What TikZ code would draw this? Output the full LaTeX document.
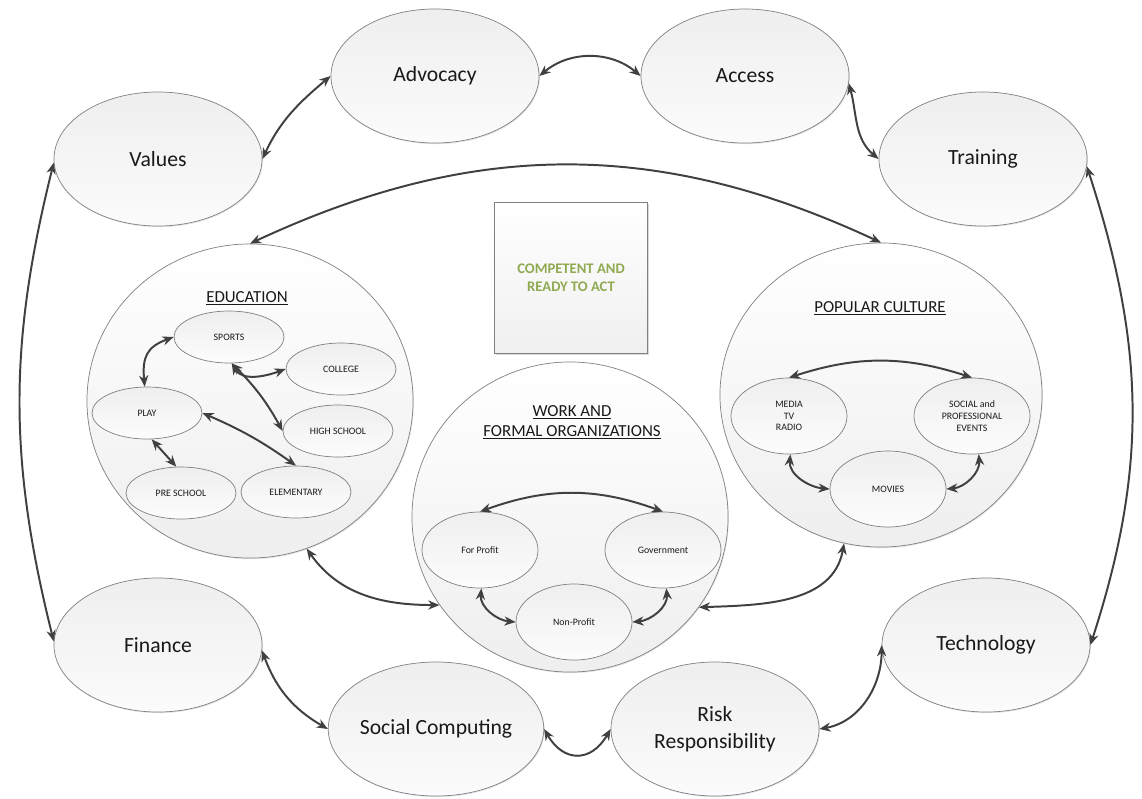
\documentclass[tikz,border=0pt]{standalone}
\usepackage{fontspec}
\setmainfont{Carlito}
\usetikzlibrary{shapes.geometric,arrows.meta,shadows}
\definecolor{compgreen}{RGB}{143,170,80}
\definecolor{edgegray}{RGB}{128,128,128}
\definecolor{linkgray}{RGB}{64,64,64}

\begin{document}
\begin{tikzpicture}[x=0.025cm,y=-0.025cm,
  theme/.style={ellipse,draw=edgegray,line width=0.5pt,top color=gray!13,bottom color=gray!3,minimum width=5.2cm,minimum height=3.35cm,inner sep=0pt,align=center,font=\fontsize{15.4}{19}\selectfont,text=black!90,drop shadow={opacity=0.2,shadow xshift=0.6pt,shadow yshift=-0.8pt}},
  sphere/.style={ellipse,draw=edgegray,line width=0.5pt,top color=white,bottom color=gray!13,inner sep=0pt,drop shadow={opacity=0.2,shadow xshift=0.6pt,shadow yshift=-0.8pt}},
  subtopic/.style={ellipse,draw=edgegray,line width=0.5pt,top color=gray!13,bottom color=gray!2,inner sep=0pt,align=center,font=\fontsize{7}{8.3}\selectfont,text=black!90},
  eduitem/.style={subtopic,minimum width=2.75cm,minimum height=1.3cm},
  orgitem/.style={subtopic,minimum width=2.9cm,minimum height=1.9cm},
  heading/.style={align=center,font=\fontsize{12}{14.2}\selectfont,text=black!90},
  link/.style={draw=linkgray,line width=1.4pt,{Stealth[length=8pt,width=6.5pt]}-{Stealth[length=8pt,width=6.5pt]}}]
\useasboundingbox (0,0) rectangle (1142,798);

\node[theme] (values) at (158,159) {Values};
\node[theme] (advocacy) at (435,76) {Advocacy};
\node[theme] (access) at (745,76) {Access};
\node[theme] (training) at (983,159) {Training};
\node[theme] (finance) at (158,645) {Finance};
\node[theme] (technology) at (986,645) {Technology};
\node[theme] (social) at (436,729) {Social Computing};
\node[theme] (risk) at (715,729) {Risk\\Responsibility};

\node[sphere,minimum width=8.15cm,minimum height=7.85cm] (edu) at (250,401) {};
\node[sphere,minimum width=8.05cm,minimum height=7.6cm] (pop) at (881,395) {};
\node[sphere,minimum width=7.9cm,minimum height=7.75cm] (work) at (570,517) {};

\node[heading] (eduhead) at (247,298) {\underline{EDUCATION}};
\node[heading] (workhead) at (572,422) {\underline{WORK AND}\\\underline{FORMAL ORGANIZATIONS}};
\node[heading] (pophead) at (880,308) {\underline{POPULAR CULTURE}};

\node[eduitem] (sports) at (229,337) {SPORTS};
\node[eduitem] (college) at (341,369) {COLLEGE};
\node[eduitem] (play) at (147,413) {PLAY};
\node[eduitem] (highschool) at (338,431) {HIGH SCHOOL};
\node[eduitem] (preschool) at (181,493) {PRE SCHOOL};
\node[eduitem] (elementary) at (296,492) {ELEMENTARY};

\node[orgitem] (forprofit) at (480,550) {For Profit};
\node[orgitem] (government) at (663,550) {Government};
\node[orgitem] (nonprofit) at (574,622) {Non-Profit};

\node[orgitem] (media) at (789,416) {MEDIA\\TV\\RADIO};
\node[orgitem] (events) at (972,416) {SOCIAL and\\PROFESSIONAL\\EVENTS};
\node[orgitem] (movies) at (888,489) {MOVIES};

\node[draw=edgegray,top color=white,bottom color=gray!12,minimum width=3.825cm,minimum height=3.775cm,align=center,text=compgreen,font=\bfseries\fontsize{10.4}{12.8}\selectfont,drop shadow={opacity=0.3,shadow xshift=1.2pt,shadow yshift=-1.2pt}] (core) at (571,278) {COMPETENT AND\\READY TO ACT};

\draw[link] (values.east) to[out=65,in=220] (advocacy.west);
\draw[link] (advocacy.east) to[out=40,in=140] (access.west);
\draw[link] (access.-4) to[out=-75,in=140] (training.west);
\draw[link] (values.182) to[out=-104,in=104] (finance.178);
\draw[link] (training.-4) to[out=-72,in=72] (technology.east);
\draw[link] (finance.-3) to[out=-70,in=150] (social.west);
\draw[link] (social.east) to[out=-60,in=-120,looseness=1.5] (risk.west);
\draw[link] (risk.east) to[out=10,in=-90] (technology.west);
\draw[link] (edu.north) to[out=25,in=155] (pop.north);
\draw[link] (edu.-69) to[out=-55,in=180] (work.-146);
\draw[link] (work.-35) to[out=2,in=-100] (pop.-104);

\draw[link] (sports.west) to[out=200,in=95,looseness=1.3] (play.95);
\draw[link] (sports.-84) to[out=-60,in=200] (college.west);
\draw[link] (sports.-84) to[bend left=8] (highschool.west);
\draw[link] (play.east) to[bend left=6] (elementary.north);
\draw[link] (play.-80) -- (preschool.100);

\draw[link] (forprofit.north) to[bend left=20] (government.north);
\draw[link] (forprofit.-88) to[out=-95,in=175] (nonprofit.west);
\draw[link] (government.-85) to[out=-85,in=5] (nonprofit.east);

\draw[link] (media.north) to[bend left=18] (events.north);
\draw[link] (media.-88) to[out=-95,in=175] (movies.west);
\draw[link] (events.-80) to[out=-85,in=5] (movies.east);
\end{tikzpicture}
\end{document}
